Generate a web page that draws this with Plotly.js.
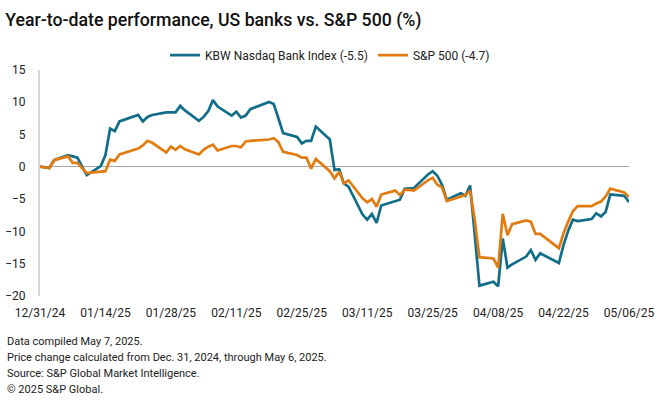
<!DOCTYPE html>
<html>
<head>
<meta charset="utf-8">
<script src="https://cdn.plot.ly/plotly-3.0.1.min.js"></script>
<style>
  html, body { margin: 0; padding: 0; background: #fff; }
  #chart { width: 660px; height: 406px; }
</style>
</head>
<body>
<div id="chart"></div>
<script>
const dates = [
  "2024-12-31",
  "2025-01-02","2025-01-03","2025-01-06","2025-01-07","2025-01-08","2025-01-10","2025-01-13","2025-01-14","2025-01-15","2025-01-16","2025-01-17","2025-01-21","2025-01-22","2025-01-23","2025-01-24","2025-01-27","2025-01-28","2025-01-29","2025-01-30","2025-01-31",
  "2025-02-03","2025-02-04","2025-02-05","2025-02-06","2025-02-07","2025-02-10","2025-02-11","2025-02-12","2025-02-13","2025-02-14","2025-02-18","2025-02-19","2025-02-20","2025-02-21","2025-02-24","2025-02-25","2025-02-26","2025-02-27","2025-02-28",
  "2025-03-03","2025-03-04","2025-03-05","2025-03-06","2025-03-07","2025-03-10","2025-03-11","2025-03-12","2025-03-13","2025-03-14","2025-03-17","2025-03-18","2025-03-19","2025-03-20","2025-03-21","2025-03-24","2025-03-25","2025-03-26","2025-03-27","2025-03-28","2025-03-31",
  "2025-04-01","2025-04-02","2025-04-03","2025-04-04","2025-04-07","2025-04-08","2025-04-09","2025-04-10","2025-04-11","2025-04-14","2025-04-15","2025-04-16","2025-04-17","2025-04-21","2025-04-22","2025-04-23","2025-04-24","2025-04-25","2025-04-28","2025-04-29","2025-04-30",
  "2025-05-01","2025-05-02","2025-05-05","2025-05-06"
];

const kbwBank = [
  0,
  -0.2, 1.0, 1.8, 1.6, 1.4, -1.3, 0.1, 1.8, 5.9, 5.5, 7.0, 8.0, 7.0, 7.7, 8.0, 8.4, 8.4, 8.4, 9.4, 8.7,
  7.1, 7.7, 8.6, 10.3, 9.3, 7.9, 8.5, 7.6, 7.9, 8.9, 10.0, 9.7, 7.5, 5.2, 4.6, 3.6, 4.0, 4.0, 6.2,
  4.2, -0.5, -0.4, -2.6, -3.1, -7.4, -8.2, -7.3, -8.7, -6.0, -5.4, -5.1, -3.4, -3.3, -3.3, -1.2, -0.7, -1.4, -2.8, -5.1, -4.1,
  -4.5, -2.9, -10.5, -18.4, -17.8, -18.5, -11.1, -15.6, -15.1, -13.9, -12.9, -14.4, -13.4, -14.9, -12.1, -9.9, -8.2, -8.4, -8.1, -7.2, -7.7,
  -7.0, -4.3, -4.5, -5.5
];

const sp500 = [
  0,
  -0.2, 1.0, 1.6, 0.6, 0.6, -1.0, -0.8, -0.7, 1.1, 0.9, 1.9, 2.8, 3.3, 4.0, 3.7, 2.2, 3.1, 2.6, 3.2, 2.7,
  1.9, 2.6, 3.1, 3.4, 2.5, 3.2, 3.2, 3.0, 3.9, 4.0, 4.2, 4.4, 3.8, 2.3, 1.8, 1.4, 1.4, -0.3, 1.2,
  -0.7, -1.8, -0.8, -2.6, -2.1, -4.9, -5.5, -5.0, -6.2, -4.3, -3.7, -4.4, -3.6, -3.6, -3.7, -2.1, -1.7, -2.8, -3.2, -5.3, -4.6,
  -4.4, -3.7, -8.2, -14.0, -14.2, -15.6, -7.3, -10.6, -8.9, -8.3, -8.5, -10.4, -10.4, -12.6, -10.3, -8.5, -6.9, -6.1, -6.1, -5.7, -5.4,
  -4.6, -3.4, -4.0, -4.7
];

const seriesNames = ["KBW Nasdaq Bank Index (-5.5)", "S&P 500 (-4.7)"];
const xTickVals = ["2024-12-31","2025-01-14","2025-01-28","2025-02-11","2025-02-25","2025-03-11","2025-03-25","2025-04-08","2025-04-22","2025-05-06"];
const xTickText = ["12/31/24","01/14/25","01/28/25","02/11/25","02/25/25","03/11/25","03/25/25","04/08/25","04/22/25","05/06/25"];
const yTickVals = [-20, -15, -10, -5, 0, 5, 10, 15];

const titleText = "Year-to-date performance, US banks vs. S&P 500 (%)";
const notes = [
  "Data compiled May 7, 2025.",
  "Price change calculated from Dec. 31, 2024, through May 6, 2025.",
  "Source: S&P Global Market Intelligence.",
  "\u00a9 2025 S&P Global."
];

const FONT = "Roboto, 'Liberation Sans', Arial, sans-serif";
const BLUE = "#126e88";
const ORANGE = "#e27b10";

const traces = [
  { x: dates, y: kbwBank, type: "scatter", mode: "lines", name: seriesNames[0],
    line: { color: BLUE, width: 2.7 } },
  { x: dates, y: sp500, type: "scatter", mode: "lines", name: seriesNames[1],
    line: { color: ORANGE, width: 2.7 } }
];

const noteAnns = notes.map((t, i) => ({
  text: t, xref: "paper", yref: "paper", x: 0, xshift: -35,
  y: 0, yshift: -45 - i * 16, xanchor: "left", yanchor: "middle",
  showarrow: false, font: { family: FONT, size: 11, color: "#222" }
}));

const layout = {
  width: 660, height: 406,
  margin: { l: 40, r: 31, t: 68, b: 110 },
  paper_bgcolor: "#fff", plot_bgcolor: "#fff",
  font: { family: FONT, size: 12, color: "#222" },
  title: { text: titleText, x: 0.008, xanchor: "left", xref: "container", y: 0.951, yanchor: "middle",
           font: { family: FONT, size: 17.7, weight: 500, color: "#111" } },
  showlegend: true,
  legend: { orientation: "h", x: 0.5, xanchor: "center", xref: "container", y: 0.864, yref: "container", yanchor: "middle",
            font: { family: FONT, size: 12, color: "#222" }, itemwidth: 30, tracegroupgap: 0 },
  xaxis: {
    type: "date", range: ["2024-12-31", "2025-05-06"],
    tickmode: "array", tickvals: xTickVals, ticktext: xTickText,
    showgrid: false, zeroline: false, showline: false, ticks: "",
    tickfont: { family: FONT, size: 12, color: "#222" }, ticklabelstandoff: 8
  },
  yaxis: {
    range: [-20, 15], tickmode: "array", tickvals: yTickVals,
    showgrid: false, zeroline: true, zerolinecolor: "#a6a6a6", zerolinewidth: 1,
    showline: true, linecolor: "#d6d6d6", linewidth: 2, ticks: "",
    tickfont: { family: FONT, size: 12, color: "#222" }, ticklabelstandoff: 10
  },
  annotations: noteAnns
};

Plotly.newPlot("chart", traces, layout, { displayModeBar: false, staticPlot: true });
</script>
</body>
</html>
